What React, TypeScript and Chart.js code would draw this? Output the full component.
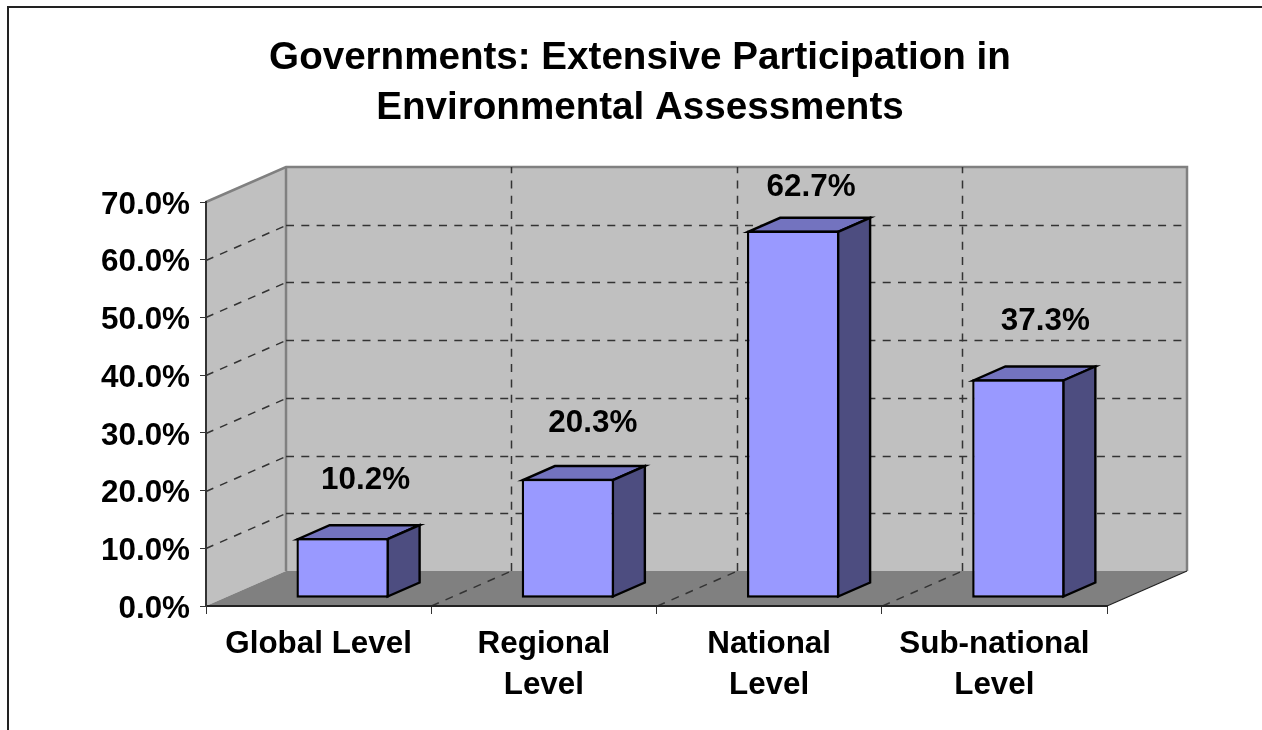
import React, { useEffect, useRef } from "react";
import { Chart, registerables } from "chart.js";

Chart.register(...registerables);

const titleLines = ["Governments: Extensive Participation in", "Environmental Assessments"];
const categories = [["Global Level"], ["Regional", "Level"], ["National", "Level"], ["Sub-national", "Level"]];
const seriesValues = [10.2, 20.3, 62.7, 37.3];
const valueLabels = ["10.2%", "20.3%", "62.7%", "37.3%"];
const axisMax = 70;
const axisStep = 10;

const FONT = '"Liberation Sans", Arial, sans-serif';
const WALL_DX = 80;
const WALL_DY = -35;
const BAR_DX = 32;
const BAR_DY = -14;
const FRONT_DX = 24;
const FRONT_DY = -8.3;
const EDGE = 2.4;
const LABEL_NUDGE = [[23, -58], [25, -55], [18, -43], [27, -58]];

function poly(ctx: CanvasRenderingContext2D, pts: number[][]) {
  ctx.beginPath();
  pts.forEach((p, i) => (i ? ctx.lineTo(p[0], p[1]) : ctx.moveTo(p[0], p[1])));
  ctx.closePath();
}

function seg(ctx: CanvasRenderingContext2D, a: number, b: number, c: number, d: number) {
  ctx.beginPath();
  ctx.moveTo(a, b);
  ctx.lineTo(c, d);
  ctx.stroke();
}

const box3d = {
  id: "box3d",
  beforeDraw(chart: any) {
    const { ctx, width, height, scales } = chart;
    const { x, y } = scales;
    const L = x.left, R = x.right, T = y.top, B = y.bottom;
    ctx.save();
    ctx.strokeStyle = "#222222";
    ctx.lineWidth = 2;
    ctx.beginPath();
    ctx.moveTo(8, height);
    ctx.lineTo(8, 7);
    ctx.lineTo(width, 7);
    ctx.stroke();
    ctx.fillStyle = "#C0C0C0";
    poly(ctx, [[L, B], [L, T], [L + WALL_DX, T + WALL_DY], [L + WALL_DX, B + WALL_DY]]);
    ctx.fill();
    poly(ctx, [[L + WALL_DX, T + WALL_DY], [R + WALL_DX, T + WALL_DY], [R + WALL_DX, B + WALL_DY], [L + WALL_DX, B + WALL_DY]]);
    ctx.fill();
    ctx.fillStyle = "#808080";
    poly(ctx, [[L, B], [R, B], [R + WALL_DX, B + WALL_DY], [L + WALL_DX, B + WALL_DY]]);
    ctx.fill();
    ctx.strokeStyle = "#808080";
    ctx.lineWidth = 2.5;
    ctx.beginPath();
    ctx.moveTo(L, T);
    ctx.lineTo(L + WALL_DX, T + WALL_DY);
    ctx.lineTo(R + WALL_DX, T + WALL_DY);
    ctx.lineTo(R + WALL_DX, B + WALL_DY);
    ctx.stroke();
    seg(ctx, L + WALL_DX, T + WALL_DY, L + WALL_DX, B + WALL_DY);
    ctx.strokeStyle = "#222222";
    ctx.lineWidth = 1.2;
    seg(ctx, R, B, R + WALL_DX, B + WALL_DY);
    ctx.setLineDash([8, 7.3]);
    ctx.strokeStyle = "#333333";
    ctx.lineWidth = 1.5;
    for (let v = axisStep; v <= axisMax - axisStep; v += axisStep) {
      const py = Math.round(y.getPixelForValue(v)) + 0.5;
      seg(ctx, L, py, L + WALL_DX, py + WALL_DY);
      seg(ctx, L + WALL_DX, py + WALL_DY, R + WALL_DX, py + WALL_DY);
    }
    for (let i = 1; i < categories.length; i++) {
      const px = Math.round((x.getPixelForValue(i - 1) + x.getPixelForValue(i)) / 2) + 0.5;
      seg(ctx, px, B, px + WALL_DX, B + WALL_DY);
      seg(ctx, px + WALL_DX, B + WALL_DY, px + WALL_DX, T + WALL_DY);
    }
    ctx.restore();
  },
  beforeDatasetDraw(chart: any, args: any) {
    const { ctx } = chart;
    const bars = chart.getDatasetMeta(args.index).data;
    ctx.save();
    ctx.strokeStyle = "#000000";
    ctx.lineWidth = EDGE;
    ctx.lineJoin = "miter";
    const inset = EDGE / 2;
    bars.forEach((bar: any) => {
      const l = bar.x - bar.width / 2 + FRONT_DX + inset;
      const r = bar.x + bar.width / 2 + FRONT_DX - inset;
      const t = bar.y + FRONT_DY + inset;
      const b = bar.base + FRONT_DY - inset;
      ctx.fillStyle = "#7373BF";
      poly(ctx, [[l, t], [r, t], [r + BAR_DX, t + BAR_DY], [l + BAR_DX, t + BAR_DY]]);
      ctx.fill();
      ctx.stroke();
      ctx.fillStyle = "#4D4D80";
      poly(ctx, [[r, t], [r + BAR_DX, t + BAR_DY], [r + BAR_DX, b + BAR_DY], [r, b]]);
      ctx.fill();
      ctx.stroke();
    });
    ctx.restore();
    ctx.save();
    ctx.translate(FRONT_DX, FRONT_DY);
  },
  afterDatasetDraw(chart: any) {
    chart.ctx.restore();
  },
  afterDatasetsDraw(chart: any) {
    const { ctx } = chart;
    const bars = chart.getDatasetMeta(0).data;
    ctx.save();
    ctx.fillStyle = "#000000";
    ctx.font = `bold 31.4px ${FONT}`;
    ctx.textAlign = "center";
    ctx.textBaseline = "middle";
    bars.forEach((bar: any, i: number) => {
      const top = bar.y + FRONT_DY;
      ctx.fillText(valueLabels[i], bar.x + FRONT_DX + LABEL_NUDGE[i][0], top + LABEL_NUDGE[i][1]);
    });
    ctx.restore();
  },
};

export default function App() {
  const ref = useRef<HTMLCanvasElement | null>(null);
  useEffect(() => {
    const chart = new Chart(ref.current as HTMLCanvasElement, {
      type: "bar",
      data: {
        labels: categories,
        datasets: [
          {
            data: seriesValues,
            yAxisID: "yBars",
            backgroundColor: "#9999FF",
            borderColor: "#000000",
            borderWidth: EDGE,
            borderSkipped: false,
            categoryPercentage: 1,
            barPercentage: 0.41,
            clip: false,
          } as any,
        ],
      },
      options: {
        animation: false,
        responsive: false,
        layout: { autoPadding: false, padding: { left: 18, right: 0, top: 0, bottom: 0 } } as any,
        plugins: {
          legend: { display: false },
          tooltip: { enabled: false },
          title: {
            display: true,
            text: titleLines,
            color: "#000000",
            font: { family: FONT, size: 38.6, weight: "bold", lineHeight: 50 / 38.6 },
            padding: { top: 33, bottom: 69 },
          },
        },
        scales: {
          x: {
            afterFit: (s: any) => { s.height = 124; },
            grid: { drawOnChartArea: false, drawTicks: true, tickLength: 8, tickColor: "#333333", lineWidth: 1, offset: true },
            border: { color: "#222222", width: 2 },
            ticks: {
              color: "#000000",
              font: { family: FONT, size: 31.4, weight: "bold", lineHeight: 41 / 31.4 },
              padding: 10,
              maxRotation: 0,
              autoSkip: false,
            },
          },
          y: {
            min: 0,
            max: axisMax,
            afterFit: (s: any) => { s.width = 188; },
            grid: { drawOnChartArea: false, drawTicks: true, tickLength: 6, tickColor: "#333333", lineWidth: 1 },
            border: { color: "#333333", width: 2 },
            ticks: {
              stepSize: axisStep,
              color: "#000000",
              font: { family: FONT, size: 31.4, weight: "bold" },
              padding: 10,
              labelOffset: 3,
              callback: (v: any) => Number(v).toFixed(1) + "%",
            },
          },
          yBars: {
            type: "linear",
            position: "left",
            display: false,
            min: 0,
            max: 69,
          },
          rightGutter: {
            type: "linear",
            position: "right",
            afterFit: (s: any) => { s.width = 155; },
            grid: { display: false },
            border: { display: false },
            ticks: { display: false },
          },
        },
      },
      plugins: [box3d],
    } as any);
    return () => chart.destroy();
  }, []);
  return (
    <div style={{ position: "absolute", left: 0, top: 0, width: 1262, height: 730, background: "#FFFFFF" }}>
      <canvas ref={ref} width={1262} height={730} style={{ display: "block" }} />
    </div>
  );
}
